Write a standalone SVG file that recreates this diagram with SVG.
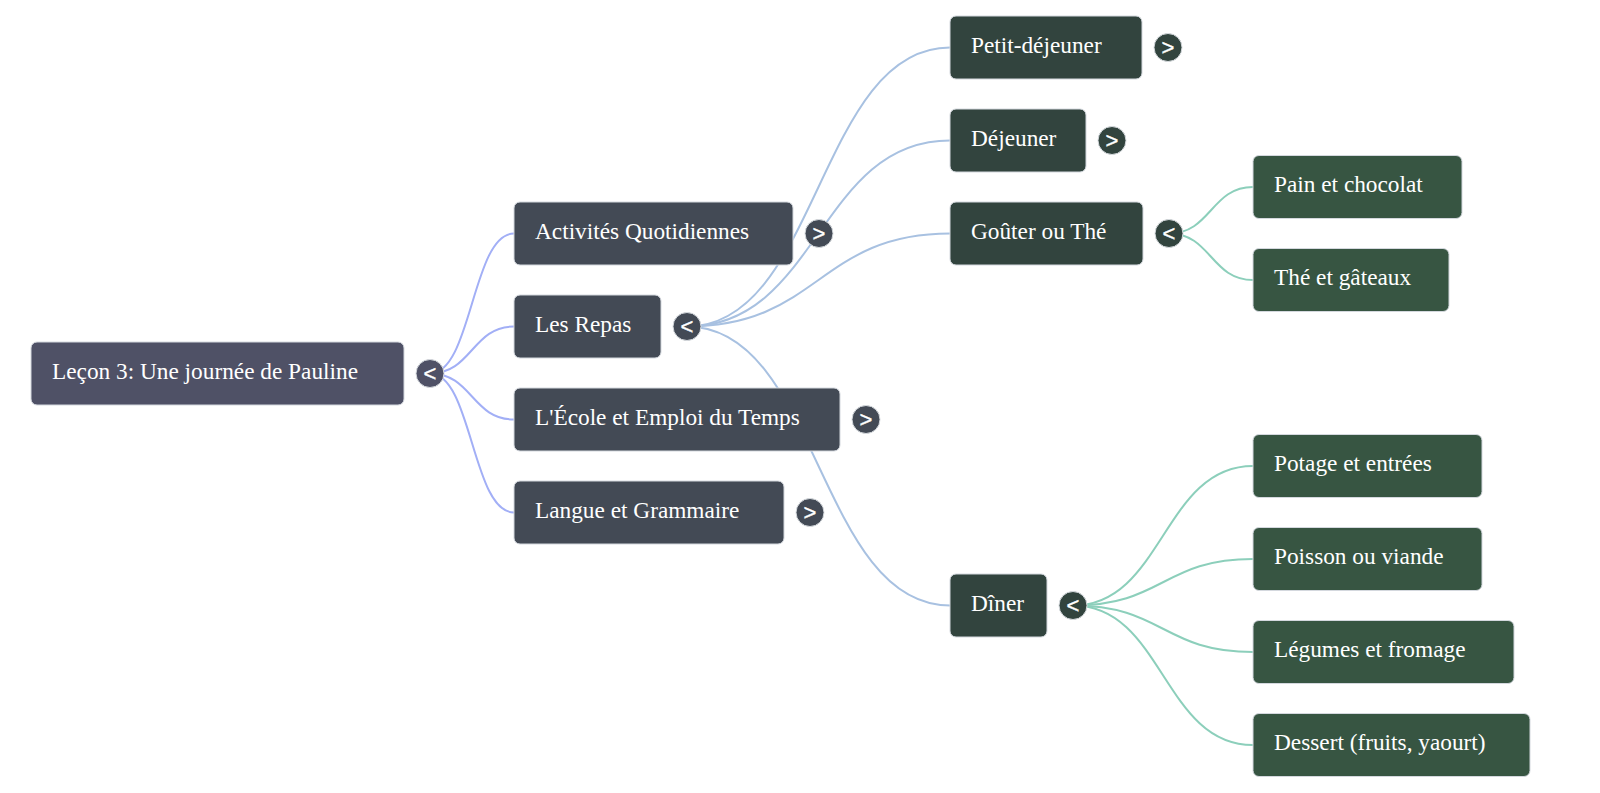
<svg xmlns="http://www.w3.org/2000/svg" width="1600" height="793" viewBox="0 0 1600 793">
<style>
.bg{fill:#ffffff}
.lk{fill:none;stroke-width:2}
.l0{stroke:#a2aff6}
.l1{stroke:#a8c1e1}
.l2{stroke:#8ccfbb}
.box{stroke:#d4d8de;stroke-width:1}
.n0{fill:#4f5166}
.n1{fill:#434a55}
.n2{fill:#32443e}
.n3{fill:#375542}
.lbl{font-family:"Liberation Serif","Times New Roman",serif;font-size:23.3px;fill:#ffffff}
.tg{stroke:#d8dce0;stroke-width:1}
.tgt{font-family:"Liberation Sans",Arial,sans-serif;font-size:22px;fill:#ffffff;stroke:#ffffff;stroke-width:0.4;text-anchor:middle}
</style>
<rect class="bg" x="0" y="0" width="1600" height="793"/>
<g id="connectors">
<path class="lk l0" d="M430,373.5 C472,373.5 472,233.5 514,233.5"/>
<path class="lk l0" d="M430,373.5 C472,373.5 472,326.5 514,326.5"/>
<path class="lk l0" d="M430,373.5 C472,373.5 472,419.5 514,419.5"/>
<path class="lk l0" d="M430,373.5 C472,373.5 472,512.5 514,512.5"/>
<path class="lk l1" d="M687,326.5 C818.5,326.5 818.5,47.5 950,47.5"/>
<path class="lk l1" d="M687,326.5 C818.5,326.5 818.5,140.5 950,140.5"/>
<path class="lk l1" d="M687,326.5 C818.5,326.5 818.5,233.5 950,233.5"/>
<path class="lk l1" d="M687,326.5 C818.5,326.5 818.5,605.5 950,605.5"/>
<path class="lk l2" d="M1169,233.5 C1211,233.5 1211,187 1253,187"/>
<path class="lk l2" d="M1169,233.5 C1211,233.5 1211,280 1253,280"/>
<path class="lk l2" d="M1073,605.5 C1163,605.5 1163,466 1253,466"/>
<path class="lk l2" d="M1073,605.5 C1163,605.5 1163,559 1253,559"/>
<path class="lk l2" d="M1073,605.5 C1163,605.5 1163,652 1253,652"/>
<path class="lk l2" d="M1073,605.5 C1163,605.5 1163,745 1253,745"/>
</g>
<g id="root">
<rect class="box n0" x="31" y="342" width="373" height="63" rx="6"/>
<text class="lbl" x="52" y="378.5">Leçon 3: Une journée de Pauline</text>
<circle class="tg n0" cx="430" cy="373.5" r="14"/>
<text class="tgt" x="430" y="381">&lt;</text>
</g>
<g id="activites">
<rect class="box n1" x="514" y="202" width="279" height="63" rx="6"/>
<text class="lbl" x="535" y="238.5">Activités Quotidiennes</text>
<circle class="tg n1" cx="819" cy="233.5" r="14"/>
<text class="tgt" x="819" y="241">&gt;</text>
</g>
<g id="repas">
<rect class="box n1" x="514" y="295" width="147" height="63" rx="6"/>
<text class="lbl" x="535" y="331.5">Les Repas</text>
<circle class="tg n1" cx="687" cy="326.5" r="14"/>
<text class="tgt" x="687" y="334">&lt;</text>
</g>
<g id="ecole">
<rect class="box n1" x="514" y="388" width="326" height="63" rx="6"/>
<text class="lbl" x="535" y="424.5">L'École et Emploi du Temps</text>
<circle class="tg n1" cx="866" cy="419.5" r="14"/>
<text class="tgt" x="866" y="427">&gt;</text>
</g>
<g id="langue">
<rect class="box n1" x="514" y="481" width="270" height="63" rx="6"/>
<text class="lbl" x="535" y="517.5">Langue et Grammaire</text>
<circle class="tg n1" cx="810" cy="512.5" r="14"/>
<text class="tgt" x="810" y="520">&gt;</text>
</g>
<g id="petitdej">
<rect class="box n2" x="950" y="16" width="192" height="63" rx="6"/>
<text class="lbl" x="971" y="52.5">Petit-déjeuner</text>
<circle class="tg n2" cx="1168" cy="47.5" r="14"/>
<text class="tgt" x="1168" y="55">&gt;</text>
</g>
<g id="dejeuner">
<rect class="box n2" x="950" y="109" width="136" height="63" rx="6"/>
<text class="lbl" x="971" y="145.5">Déjeuner</text>
<circle class="tg n2" cx="1112" cy="140.5" r="14"/>
<text class="tgt" x="1112" y="148">&gt;</text>
</g>
<g id="gouter">
<rect class="box n2" x="950" y="202" width="193" height="63" rx="6"/>
<text class="lbl" x="971" y="238.5">Goûter ou Thé</text>
<circle class="tg n2" cx="1169" cy="233.5" r="14"/>
<text class="tgt" x="1169" y="241">&lt;</text>
</g>
<g id="diner">
<rect class="box n2" x="950" y="574" width="97" height="63" rx="6"/>
<text class="lbl" x="971" y="610.5">Dîner</text>
<circle class="tg n2" cx="1073" cy="605.5" r="14"/>
<text class="tgt" x="1073" y="613">&lt;</text>
</g>
<g id="pain">
<rect class="box n3" x="1253" y="155.5" width="209" height="63" rx="6"/>
<text class="lbl" x="1274" y="192">Pain et chocolat</text>
</g>
<g id="the">
<rect class="box n3" x="1253" y="248.5" width="196" height="63" rx="6"/>
<text class="lbl" x="1274" y="285">Thé et gâteaux</text>
</g>
<g id="potage">
<rect class="box n3" x="1253" y="434.5" width="229" height="63" rx="6"/>
<text class="lbl" x="1274" y="471">Potage et entrées</text>
</g>
<g id="poisson">
<rect class="box n3" x="1253" y="527.5" width="229" height="63" rx="6"/>
<text class="lbl" x="1274" y="564">Poisson ou viande</text>
</g>
<g id="legumes">
<rect class="box n3" x="1253" y="620.5" width="261" height="63" rx="6"/>
<text class="lbl" x="1274" y="657">Légumes et fromage</text>
</g>
<g id="dessert">
<rect class="box n3" x="1253" y="713.5" width="277" height="63" rx="6"/>
<text class="lbl" x="1274" y="750">Dessert (fruits, yaourt)</text>
</g>
</svg>
